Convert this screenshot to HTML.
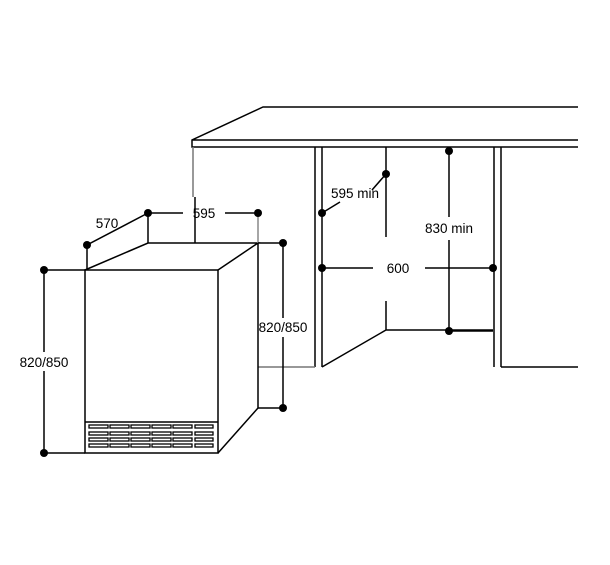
<!DOCTYPE html><html><head><style>body{margin:0;background:#fff}</style></head><body>
<svg width="610" height="560" xmlns="http://www.w3.org/2000/svg" font-family="Liberation Sans, sans-serif" font-size="13.5">
<rect width="610" height="560" fill="#fff"/>
<g stroke="#000" stroke-width="1.5" fill="none">
<path d="M578 107 H263 L192 140 V147 H578 M192 140 H578"/>
<path d="M193 147 V197" stroke="#777"/>
<path d="M315 147 V367 M322 147 V367 M322 367 L386 330 M386 147 V237 M386 301 V330 H493"/>
<path d="M494 147 V367 M501 147 V367 M501 367 H578"/>
<path d="M258 367 H315" stroke="#777"/>
<rect x="85" y="270" width="133" height="183"/>
<path d="M85 270 L148 243 H258 L218 270 M258 243 V408 L218 453"/>
<path d="M85 422 H218"/>
<path d="M148 213 V243 M148 213 L87 245 V270 M148 213 H183 M225 213 H258 M195 197 V243"/>
<path d="M258 213 V243" stroke="#888"/>
<path d="M258 243 H283 V318 M283 337 V408 H258"/>
<path d="M44 270 H85 M44 453 H85 M44 270 V352 M44 371 V453"/>
<path d="M322 213 L340 202 M372 190 L386 174"/>
<path d="M322 268 H373 M425 268 H493"/>
<path d="M449 151 V217 M449 240 V331 H493"/>
</g>
<g stroke="#000" stroke-width="1.3" fill="#fff">
<g id="r">
<rect x="89" y="425" width="19" height="3"/><rect x="110" y="425" width="19" height="3"/><rect x="131" y="425" width="19" height="3"/><rect x="152" y="425" width="19" height="3"/><rect x="173" y="425" width="19" height="3"/><rect x="195" y="425" width="18" height="3"/>
</g>
<use href="#r" y="7"/><use href="#r" y="13"/><use href="#r" y="19"/>
</g>
<g fill="#000">
<circle cx="148" cy="213" r="4"/><circle cx="258" cy="213" r="4"/><circle cx="87" cy="245" r="4"/>
<circle cx="283" cy="243" r="4"/><circle cx="283" cy="408" r="4"/>
<circle cx="44" cy="270" r="4"/><circle cx="44" cy="453" r="4"/>
<circle cx="386" cy="174" r="4"/><circle cx="322" cy="213" r="4"/>
<circle cx="322" cy="268" r="4"/><circle cx="493" cy="268" r="4"/>
<circle cx="449" cy="151" r="4"/><circle cx="449" cy="331" r="4"/>
</g>
<g fill="#000" text-anchor="middle">
<text x="107" y="228">570</text>
<text x="204" y="218">595</text>
<text x="283" y="332">820/850</text>
<text x="44" y="367">820/850</text>
<text x="355" y="198">595 min</text>
<text x="398" y="273">600</text>
<text x="449" y="233">830 min</text>
</g>
</svg>
</body></html>
